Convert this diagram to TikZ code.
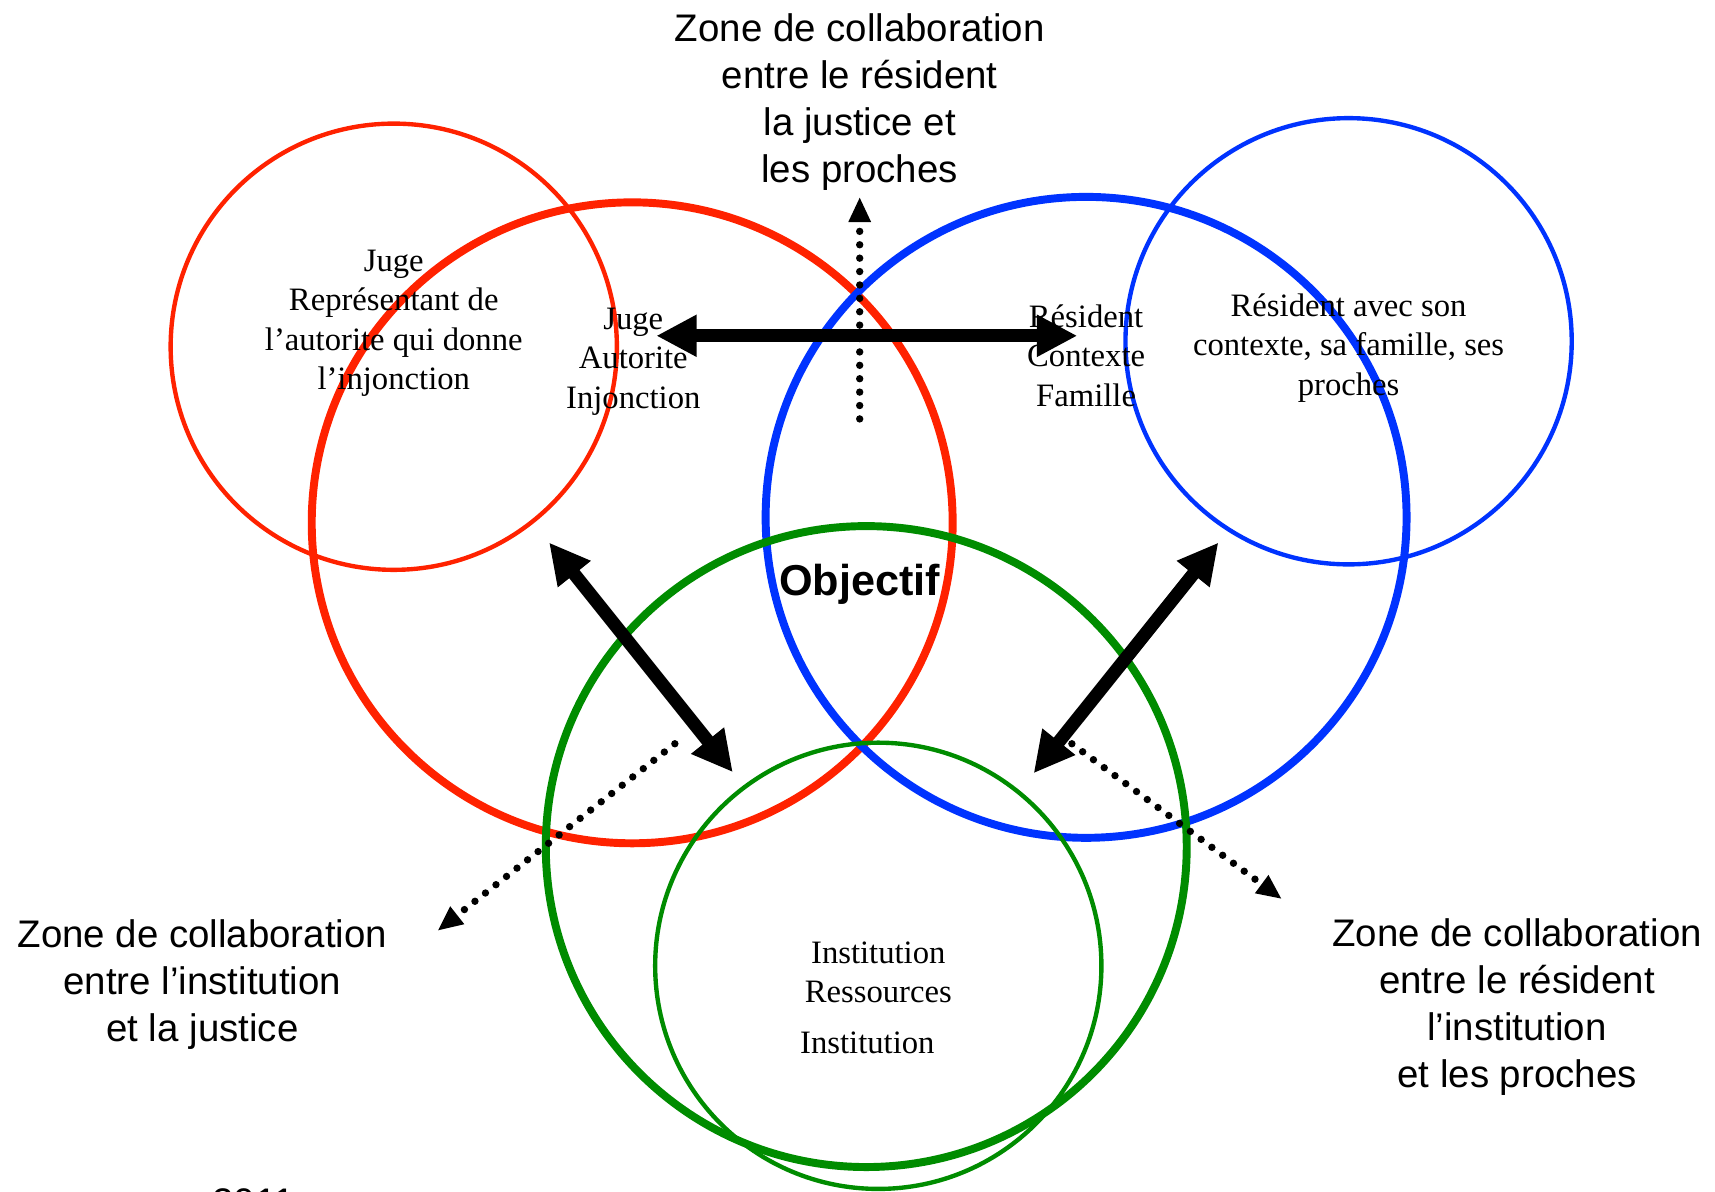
\documentclass[tikz,border=0pt]{standalone}
\usepackage{fontspec}
\setmainfont{Liberation Serif}
\setsansfont{Liberation Sans}
\usetikzlibrary{arrows.meta}
\definecolor{cred}{RGB}{255,34,0}
\definecolor{cblue}{RGB}{0,51,255}
\definecolor{cgreen}{RGB}{0,140,0}
\tikzset{
  thickring/.style={line width=0.145cm},
  thinring/.style={line width=0.08cm},
  bigarrow/.style={line width=0.24cm,{Triangle[length=0.74cm,width=0.72cm]}-{Triangle[length=0.74cm,width=0.72cm]}},
  dotarrow/.style={line width=0.135cm,line cap=round,dash pattern=on 0pt off 0.245cm,-{Triangle[length=0.46cm,width=0.38cm]}},
  zonelabel/.style={align=center,font=\fontsize{20}{24.4}\selectfont\sffamily,inner sep=0pt},
  serlabel/.style={align=center,font=\fontsize{17}{20.6}\selectfont\rmfamily,inner sep=0pt},
}
\begin{document}
\begin{tikzpicture}[x=0.02cm,y=-0.02cm]
\useasboundingbox (0,0) rectangle (1568,1089);
% circles
\draw[cred,thinring] (360,317) circle[radius=204];
\draw[cred,thickring] (578,478) circle[radius=293];
\draw[cblue,thickring] (993,473) circle[radius=293];
\draw[cblue,thinring] (1233,312) circle[radius=204];
\draw[cgreen,thickring] (792,774) circle[radius=293];
\draw[cgreen,thinring] (803,883) circle[radius=204];
% texts
\node[serlabel] (jugeA) at (360,295.5) {Juge\\Représentant de\\l’autorite qui donne\\l’injonction};
\node[serlabel] (jugeB) at (579,330.5) {Juge\\Autorite\\Injonction};
\node[serlabel] (resA) at (993,325) {Résident\\Contexte\\Famille};
\node[serlabel] (resB) at (1233,318) {Résident avec son\\contexte, sa famille, ses\\proches};
\node[serlabel] (instA) at (803,889) {Institution\\Ressources};
\node[serlabel] (instB) at (793,953) {Institution};
\node[font=\fontsize{22.5}{27}\selectfont\sffamily\bfseries,inner sep=0pt] (obj) at (786,534) {Objectif};
\node[zonelabel] (ztop) at (786,93.5) {Zone de collaboration\\entre le résident\\la justice et\\les proches};
\node[zonelabel] (zleft) at (185,900) {Zone de collaboration\\entre l’institution\\et la justice};
\node[zonelabel] (zright) at (1387,921) {Zone de collaboration\\entre le résident\\l’institution\\et les proches};
\node[font=\fontsize{20}{24}\selectfont\sffamily,inner sep=0pt,anchor=base] (src) at (232,1111) {2011};
% arrow end points
\coordinate (hL) at (600,307);
\coordinate (hR) at (985,307);
\coordinate (dLa) at (502,496);
\coordinate (dLb) at (670,706);
\coordinate (dRa) at (1114,496);
\coordinate (dRb) at (945,707);
\coordinate (vS) at (786,383);
\coordinate (vE) at (786,180);
\coordinate (lS) at (617,680);
\coordinate (lE) at (400,851);
\coordinate (rS) at (980,680);
\coordinate (rE) at (1172,822);
% arrows
\draw[bigarrow] (hL) -- (hR);
\draw[bigarrow] (dLa) -- (dLb);
\draw[bigarrow] (dRa) -- (dRb);
\draw[dotarrow] (vS) -- (vE);
\draw[dotarrow] (lS) -- (lE);
\draw[dotarrow] (rS) -- (rE);
\end{tikzpicture}
\end{document}
